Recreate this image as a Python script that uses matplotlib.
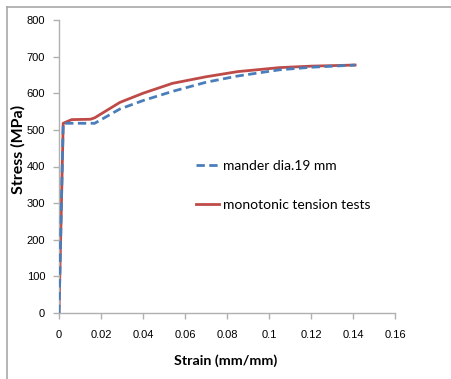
import matplotlib
matplotlib.use("Agg")
import matplotlib.pyplot as plt
from matplotlib.lines import Line2D

# Data
mander_strain = [0.0, 0.002, 0.017, 0.029, 0.04, 0.054, 0.07, 0.085, 0.105, 0.12, 0.141]
mander_stress = [0, 518, 518, 557, 580, 605, 630, 647, 664, 671, 677]
tension_strain = [0.0, 0.002, 0.006, 0.015, 0.017, 0.029, 0.04, 0.054, 0.07, 0.085, 0.105, 0.12, 0.141]
tension_stress = [0, 518, 528, 529, 533, 575, 600, 627, 645, 659, 670, 674, 677]

x_ticks = [0, 0.02, 0.04, 0.06, 0.08, 0.1, 0.12, 0.14, 0.16]
x_tick_labels = ["0", "0.02", "0.04", "0.06", "0.08", "0.1", "0.12", "0.14", "0.16"]
y_ticks = [0, 100, 200, 300, 400, 500, 600, 700, 800]

W, H = 451, 379
fig = plt.figure(figsize=(W / 100, H / 100), dpi=100)
ax = fig.add_axes([59 / W, 1 - 313 / H, (395 - 59) / W, (313 - 20) / H])

ax.plot(mander_strain, mander_stress, color="#4a7ebb", lw=2.0, ls=(0, (3, 1.6)),
        label="mander dia.19 mm", zorder=3)
ax.plot(tension_strain, tension_stress, color="#be4b48", lw=2.0,
        label="monotonic tension tests", zorder=2)

ax.set_xlim(0, 0.16)
ax.set_ylim(0, 800)
ax.set_xticks(x_ticks)
ax.set_xticklabels(x_tick_labels)
ax.set_yticks(y_ticks)

for s in ["top", "right"]:
    ax.spines[s].set_visible(False)
for s in ["left", "bottom"]:
    ax.spines[s].set_color("#b0b0b0")
    ax.spines[s].set_linewidth(1.0)

ax.tick_params(axis="both", direction="out", length=4, width=1, color="#b0b0b0",
               labelsize=8, labelcolor="black")
ax.tick_params(axis="x", pad=8.5)
ax.tick_params(axis="y", pad=6)
for lab in ax.get_xticklabels() + ax.get_yticklabels():
    lab.set_fontfamily("Liberation Sans")

ax.set_xlabel("Strain (mm/mm)", fontfamily="Lato", fontweight="bold", fontsize=10.3)
ax.set_ylabel("Stress (MPa)", fontfamily="Lato", fontweight="bold", fontsize=11.5)
ax.xaxis.label.set_va("center")
ax.yaxis.label.set_va("center")
ax.xaxis.set_label_coords((226 - 59) / 336, (313 - 361) / 293)
ax.yaxis.set_label_coords((18 - 59) / 336, (313 - 149) / 293)

leg = ax.legend(loc="upper left", bbox_to_anchor=(0.37, 0.565), frameon=False,
                prop={"family": "Lato", "size": 10}, handlelength=1.65,
                handletextpad=0.3, labelspacing=1.95)

# outer chart border (partially visible)
fig.add_artist(Line2D([7 / W, 1.0], [1 - 6.5 / H, 1 - 6.5 / H], color="#a8a8a8", lw=1.2,
                      transform=fig.transFigure))
fig.add_artist(Line2D([7 / W, 7 / W], [0, 1 - 6.5 / H], color="#a8a8a8", lw=1.2,
                      transform=fig.transFigure))

fig.savefig("out.png", dpi=100)
